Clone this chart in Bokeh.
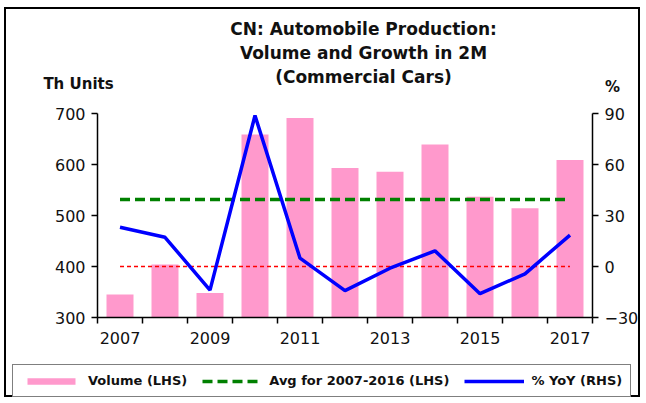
from bokeh.plotting import figure
from bokeh.models import (Range1d, LinearAxis, FixedTicker, Label, Legend,
                          LegendItem)
from bokeh.embed import file_html
from bokeh.resources import INLINE

# ---- data ----
years = [2007, 2008, 2009, 2010, 2011, 2012, 2013, 2014, 2015, 2016, 2017]
volume = [345, 404, 348, 659, 691, 593, 586, 639, 537, 514, 609]   # Th units
yoy = [23.1, 17.2, -13.9, 88.8, 4.9, -14.2, -1.0, 9.2, -16.0, -4.3, 18.5]  # %
avg_value = sum(volume[:10]) / len(volume[:10])   # Avg for 2007-2016
x_tick_years = [2007, 2009, 2011, 2013, 2015, 2017]
x_tick_labels = ["2007", "2009", "2011", "2013", "2015", "2017"]
left_ticks = [300, 400, 500, 600, 700]
right_ticks = [-30, 0, 30, 60, 90]
title_lines = ["CN: Automobile Production:", "Volume and Growth in 2M",
               "(Commercial Cars)"]

FONT = "DejaVu Sans"
TXT = "#111111"

# ---- layout (canvas pixels) ----
W, H = 636, 390
PL, PR, PT, PB = 91, 586, 104, 308      # plot area edges inside the canvas

x0, x1 = years[0] - 0.5, years[-1] + 0.5
xs = (x1 - x0) / (PR - PL)
ly0, ly1 = left_ticks[0], left_ticks[-1]
lys = (ly1 - ly0) / (PB - PT)
ry0, ry1 = right_ticks[0], right_ticks[-1]
rys = (ry1 - ry0) / (PB - PT)

p = figure(width=W, height=H,
           x_range=Range1d(x0 - PL * xs, x1 + (W - PR) * xs),
           y_range=Range1d(ly0 - (H - PB) * lys, ly1 + PT * lys),
           x_axis_location=None, y_axis_location=None,
           output_backend="svg", toolbar_location=None,
           min_border=0, min_border_left=0, min_border_right=0,
           min_border_top=0, min_border_bottom=0)
p.title = None
p.outline_line_color = None
for g in p.grid:
    g.grid_line_color = None
p.styles = {"border": "2px solid black", "margin-left": "4px",
            "margin-top": "7px"}
p.extra_y_ranges = {"yoy": Range1d(ry0 - (H - PB) * rys, ry1 + PT * rys)}

# bars
bars = p.vbar(x=years, top=volume, bottom=left_ticks[0], width=0.6,
              fill_color="#ff99cc", line_color=None)
# zero reference line (RHS)
p.line(x=[years[0], years[-1]], y=[0, 0], y_range_name="yoy",
       line_color="#ff0000", line_width=1.5, line_dash="4 3")
# average line (LHS)
avg_line = p.line(x=[years[0], years[-1]], y=[avg_value, avg_value],
                  line_color="#008000", line_width=3.5, line_dash="10 5")
# YoY line
yoy_line = p.line(x=years, y=yoy, y_range_name="yoy",
                  line_color="#0000ff", line_width=3.5)

# axes
xa = LinearAxis(fixed_location=ly0, bounds=(x0, x1),
                ticker=FixedTicker(ticks=x_tick_years,
                                   minor_ticks=[y - 0.5 for y in years] + [x1]))
xa.major_label_overrides = {y: l for y, l in zip(x_tick_years, x_tick_labels)}
xa.major_tick_line_color = None
xa.major_tick_in = 0
xa.major_tick_out = 0
xa.minor_tick_in = 0
xa.minor_tick_out = 6
xa.minor_tick_line_color = "black"
xa.minor_tick_line_width = 1.5
xa.major_label_standoff = 8
p.add_layout(xa, "below")

la = LinearAxis(fixed_location=x0, bounds=(ly0, ly1),
                ticker=FixedTicker(ticks=left_ticks))
ra = LinearAxis(y_range_name="yoy", fixed_location=x1, bounds=(ry0, ry1),
                ticker=FixedTicker(ticks=right_ticks))
p.add_layout(la, "left")
p.add_layout(ra, "right")
for ax in (la, ra):
    ax.minor_tick_line_color = None
    ax.major_tick_in = 0
    ax.major_tick_out = 6
    ax.major_tick_line_width = 1.5
    ax.major_tick_line_color = "black"
    ax.major_label_standoff = 6

for ax in (xa, la, ra):
    ax.axis_line_color = "black"
    ax.axis_line_width = 1.5
    ax.major_label_text_font = FONT
    ax.major_label_text_font_size = "16px"
    ax.major_label_text_color = TXT

# title lines and axis unit labels (screen px: x from left, y from bottom)
for i, t in enumerate(title_lines):
    p.add_layout(Label(x=357, y=371 - 24 * i, x_units="screen", y_units="screen",
                       text=t, text_align="center", text_baseline="middle",
                       text_font=FONT, text_font_style="bold",
                       text_font_size="17px", text_color=TXT))
p.add_layout(Label(x=72, y=316, x_units="screen", y_units="screen",
                   text="Th Units", text_align="center", text_baseline="middle",
                   text_font=FONT, text_font_style="bold",
                   text_font_size="15px", text_color=TXT))
p.add_layout(Label(x=606, y=313, x_units="screen", y_units="screen",
                   text="%", text_align="center", text_baseline="middle",
                   text_font=FONT, text_font_style="bold",
                   text_font_size="15px", text_color=TXT))

legend = Legend(items=[LegendItem(label="Volume (LHS)", renderers=[bars]),
                       LegendItem(label="Avg for 2007-2016 (LHS)", renderers=[avg_line]),
                       LegendItem(label="% YoY (RHS)", renderers=[yoy_line])],
                location=(6, 2), orientation="horizontal",
                label_text_font=FONT, label_text_font_style="bold",
                label_text_font_size="13px", label_text_color=TXT,
                border_line_color="black", border_line_width=1.5,
                background_fill_color="white", background_fill_alpha=1,
                glyph_width=60, glyph_height=8, label_standoff=7,
                spacing=15, padding=8, margin=0, label_height=13)
p.add_layout(legend)

open("out.html", "w").write(file_html(p, INLINE))
